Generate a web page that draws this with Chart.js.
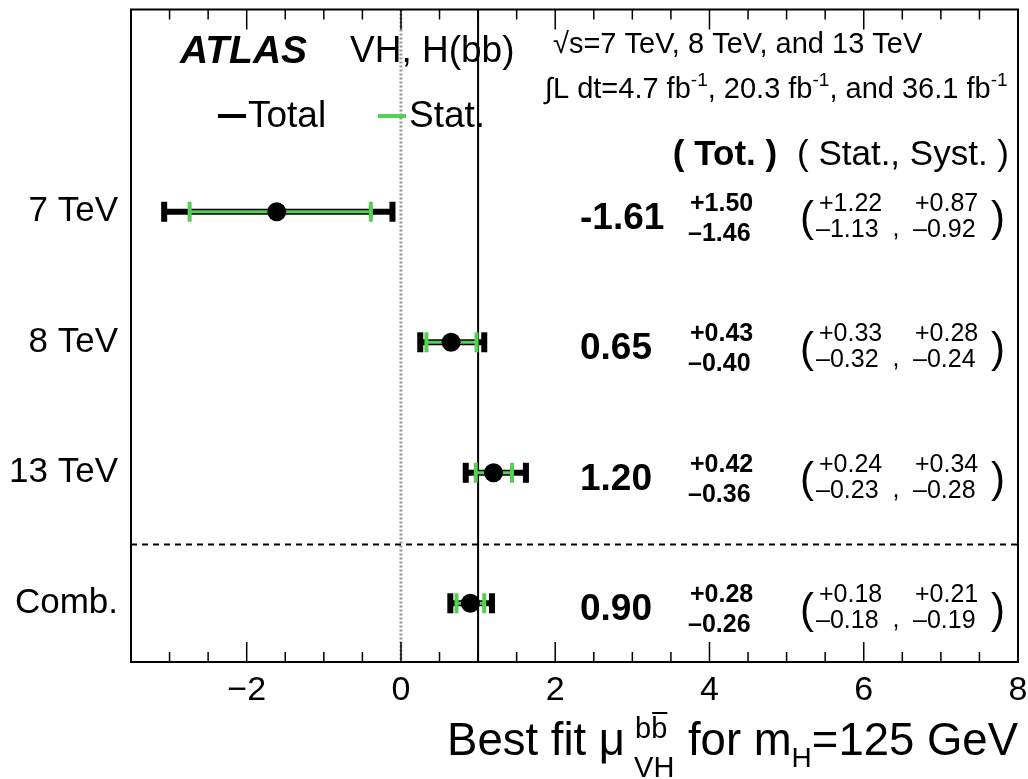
<!DOCTYPE html>
<html>
<head>
<meta charset="utf-8">
<script src="https://cdn.jsdelivr.net/npm/chart.js@4.4.0/dist/chart.umd.min.js"></script>
<style>
  html, body { margin: 0; padding: 0; background: #fff; }
</style>
</head>
<body>
<canvas id="grafico" width="1028" height="779"></canvas>
<script>
// =====================================================
// DADOS
// =====================================================
const categorias = ["7 TeV", "8 TeV", "13 TeV", "Comb."];
const posicaoY = [3.45, 2.45, 1.45, 0.45];
const centrais = [-1.61, 0.65, 1.20, 0.90];
const totSup = [1.50, 0.43, 0.42, 0.28];
const totInf = [1.46, 0.40, 0.36, 0.26];
const statSup = [1.22, 0.33, 0.24, 0.18];
const statInf = [1.13, 0.32, 0.23, 0.18];
const systSup = [0.87, 0.28, 0.34, 0.21];
const systInf = [0.92, 0.24, 0.28, 0.19];
const ticksX = [-2, 0, 2, 4, 6, 8];
const linhaSM = 1;
const linhaZero = 0;
const separador = 0.9;

const FONTE = '"Liberation Sans", Arial, Helvetica, sans-serif';
const VERDE = "#55cf55";

// =====================================================
// HELPERS
// =====================================================
function fonte(size, bold, italic) {
  return (italic ? "italic " : "") + (bold ? "bold " : "") + size + "px " + FONTE;
}

function texto(ctx, s, x, y, size, opts = {}) {
  ctx.save();
  ctx.font = fonte(size, opts.bold, opts.italic);
  ctx.fillStyle = "#000";
  ctx.textAlign = opts.align || "left";
  ctx.textBaseline = opts.baseline || "middle";
  ctx.fillText(s, x, y);
  ctx.restore();
}

function fmtSinal(v, sinal) {
  return (sinal > 0 ? "+" : "\u2013") + v.toFixed(2);
}

// partes: {t, size, dy} desenhadas em sequência na linha de base
function textoRico(ctx, partes, x, y) {
  let cx = x;
  partes.forEach(p => {
    ctx.font = fonte(p.size, p.bold);
    ctx.fillStyle = "#000";
    ctx.textBaseline = "alphabetic";
    ctx.textAlign = "left";
    ctx.fillText(p.t, cx, y + (p.dy || 0));
    cx += ctx.measureText(p.t).width;
  });
  return cx;
}

function largura(ctx, s, size) {
  ctx.font = fonte(size);
  return ctx.measureText(s).width;
}

function semPadding(s) {
  s.paddingTop = 0;
  s.paddingBottom = 0;
  s.paddingLeft = 0;
  s.paddingRight = 0;
}

// =====================================================
// PLUGIN — LINHAS, BARRAS DE ERRO, TEXTOS
// =====================================================
const pluginAtlas = {
  id: "atlas",
  beforeDatasetsDraw(chart) {
    const { ctx, chartArea: a, scales: { x, y } } = chart;

    ctx.save();
    // linha pontilhada em zero
    ctx.strokeStyle = "#999";
    ctx.lineWidth = 3;
    ctx.setLineDash([2, 2]);
    ctx.beginPath();
    ctx.moveTo(x.getPixelForValue(linhaZero), a.top);
    ctx.lineTo(x.getPixelForValue(linhaZero), a.bottom);
    ctx.stroke();

    // linha SM = 1
    ctx.setLineDash([]);
    ctx.strokeStyle = "#000";
    ctx.lineWidth = 2;
    ctx.beginPath();
    ctx.moveTo(x.getPixelForValue(linhaSM), a.top);
    ctx.lineTo(x.getPixelForValue(linhaSM), a.bottom);
    ctx.stroke();

    // separador tracejado
    ctx.setLineDash([6, 5]);
    ctx.beginPath();
    ctx.moveTo(a.left, y.getPixelForValue(separador));
    ctx.lineTo(a.right, y.getPixelForValue(separador));
    ctx.stroke();
    ctx.setLineDash([]);

    // barras de erro
    centrais.forEach((c, i) => {
      const py = y.getPixelForValue(posicaoY[i]);
      const tlo = x.getPixelForValue(c - totInf[i]);
      const thi = x.getPixelForValue(c + totSup[i]);
      const slo = x.getPixelForValue(c - statInf[i]);
      const shi = x.getPixelForValue(c + statSup[i]);

      ctx.strokeStyle = "#000";
      ctx.lineWidth = 6;
      ctx.beginPath();
      ctx.moveTo(tlo, py);
      ctx.lineTo(thi, py);
      ctx.stroke();
      ctx.fillStyle = "#000";
      ctx.fillRect(tlo - 3, py - 10, 6, 20);
      ctx.fillRect(thi - 3, py - 10, 6, 20);

      ctx.strokeStyle = VERDE;
      ctx.lineWidth = 3;
      ctx.beginPath();
      ctx.moveTo(slo, py);
      ctx.lineTo(shi, py);
      ctx.stroke();
      ctx.fillStyle = VERDE;
      ctx.fillRect(slo - 2, py - 10, 4, 20);
      ctx.fillRect(shi - 2, py - 10, 4, 20);
    });
    ctx.restore();
  },

  afterDatasetsDraw(chart) {
    const { ctx, chartArea: a, scales: { x, y } } = chart;
    ctx.save();

    // moldura
    ctx.strokeStyle = "#000";
    ctx.lineWidth = 2;
    ctx.strokeRect(a.left, a.top, a.right - a.left, a.bottom - a.top);

    // ticks para dentro (baixo e topo)
    ctx.lineWidth = 1.5;
    for (let v = x.min + 0.5; v < x.max; v += 0.5) {
      const px = x.getPixelForValue(v);
      const len = ticksX.includes(v) ? 20 : 10;
      ctx.beginPath();
      ctx.moveTo(px, a.bottom);
      ctx.lineTo(px, a.bottom - len);
      ctx.moveTo(px, a.top);
      ctx.lineTo(px, a.top + len);
      ctx.stroke();
    }

    // cabeçalho
    texto(ctx, "ATLAS", 180, 52, 39, { bold: true, italic: true });
    texto(ctx, "VH, H(bb)", 350, 52, 37);

    // legenda
    ctx.lineWidth = 4;
    ctx.strokeStyle = "#000";
    ctx.beginPath(); ctx.moveTo(218, 116); ctx.lineTo(246, 116); ctx.stroke();
    ctx.strokeStyle = VERDE;
    ctx.beginPath(); ctx.moveTo(378, 116); ctx.lineTo(406, 116); ctx.stroke();
    texto(ctx, "Total", 248, 117, 37);
    texto(ctx, "Stat.", 409, 117, 37);

    texto(ctx, "\u221As=7 TeV, 8 TeV, and 13 TeV", 553, 45, 29);
    textoRico(ctx, [
      { t: "\u222BL dt=4.7 fb", size: 29 }, { t: "-1", size: 19, dy: -12 },
      { t: ", 20.3 fb", size: 29 }, { t: "-1", size: 19, dy: -12 },
      { t: ", and 36.1 fb", size: 29 }, { t: "-1", size: 19, dy: -12 }
    ], 545, 98);

    texto(ctx, "( Tot. )", 725, 155, 35, { bold: true, align: "center" });
    texto(ctx, "( Stat., Syst. )", 903, 155, 35, { align: "center" });

    // valores por linha
    centrais.forEach((c, i) => {
      const py = y.getPixelForValue(posicaoY[i]);
      texto(ctx, c.toFixed(2), 580, py + 7, 37, { bold: true });
      texto(ctx, fmtSinal(totSup[i], 1), 690, py - 8, 25, { bold: true });
      texto(ctx, fmtSinal(totInf[i], -1), 688, py + 22, 25, { bold: true });
      texto(ctx, "(", 807, py + 8, 42, { align: "center" });
      texto(ctx, fmtSinal(statSup[i], 1), 819, py - 8, 25);
      texto(ctx, fmtSinal(statInf[i], -1), 816, py + 18, 25);
      texto(ctx, ",", 896, py + 17, 25, { align: "center" });
      texto(ctx, fmtSinal(systSup[i], 1), 915, py - 8, 25);
      texto(ctx, fmtSinal(systInf[i], -1), 913, py + 18, 25);
      texto(ctx, ")", 998, py + 8, 42, { align: "center" });
    });

    // título do eixo x
    const fP = 45.5, fS = 29, fH = 28;
    const w1 = largura(ctx, "Best fit \u03BC", fP);
    const wStack = Math.max(largura(ctx, "bb", fS), largura(ctx, "VH", fS)) + 10;
    const w2 = largura(ctx, " for m", fP);
    const wH = largura(ctx, "H", fH);
    const w3 = largura(ctx, "=125 GeV", fP);
    const total = w1 + wStack + w2 + wH + w3;
    const base = 755;
    let cx = a.right - total;
    cx = textoRico(ctx, [{ t: "Best fit \u03BC", size: fP }], cx, base);
    textoRico(ctx, [{ t: "bb", size: fS }], cx + 10, base - 17);
    // barra sobre o segundo b
    const wb = largura(ctx, "b", fS);
    ctx.lineWidth = 2;
    ctx.strokeStyle = "#000";
    ctx.beginPath();
    ctx.moveTo(cx + 10 + wb + 1, base - 42);
    ctx.lineTo(cx + 10 + 2 * wb, base - 42);
    ctx.stroke();
    textoRico(ctx, [{ t: "VH", size: fS }], cx + 9, base + 22);
    cx += wStack;
    textoRico(ctx, [{ t: " for m", size: fP }, { t: "H", size: fH, dy: 12 }, { t: "=125 GeV", size: fP }], cx, base);

    ctx.restore();
  }
};

// =====================================================
// GRÁFICO
// =====================================================
new Chart(document.getElementById("grafico"), {
  type: "scatter",
  data: {
    datasets: [{
      data: centrais.map((c, i) => ({ x: c, y: posicaoY[i] })),
      pointRadius: 9.5,
      pointHoverRadius: 9.5,
      backgroundColor: "#000",
      borderWidth: 0
    }]
  },
  options: {
    responsive: false,
    animation: false,
    devicePixelRatio: 1,
    layout: { padding: { top: 8, right: 10, left: 0, bottom: 0 } },
    plugins: { legend: { display: false }, tooltip: { enabled: false } },
    scales: {
      x: {
        type: "linear",
        min: -3.5,
        max: 8,
        afterBuildTicks: s => { s.ticks = ticksX.map(v => ({ value: v })); },
        afterFit: s => { s.height = 117; semPadding(s); },
        ticks: {
          autoSkip: false,
          maxRotation: 0,
          padding: 8,
          color: "#000",
          font: { family: FONTE, size: 34 },
          callback: v => (v < 0 ? "\u2212" + Math.abs(v) : String(v))
        },
        grid: { display: false, drawTicks: false },
        border: { display: false }
      },
      y: {
        type: "linear",
        min: 0,
        max: 5,
        afterBuildTicks: s => { s.ticks = posicaoY.map(v => ({ value: v })); },
        afterFit: s => { s.width = 131; semPadding(s); },
        ticks: {
          padding: 13,
          color: "#000",
          font: { family: FONTE, size: 35 },
          callback: v => categorias[posicaoY.findIndex(p => Math.abs(p - v) < 1e-6)]
        },
        grid: { display: false, drawTicks: false },
        border: { display: false }
      }
    }
  },
  plugins: [pluginAtlas]
});
</script>
</body>
</html>
